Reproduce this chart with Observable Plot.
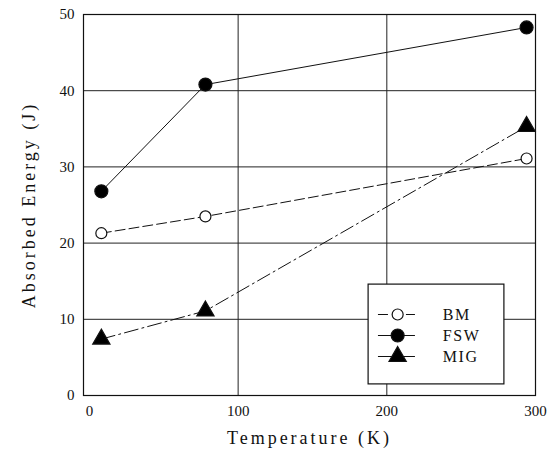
<!DOCTYPE html>
<html><head><meta charset="utf-8">
<script src="https://cdn.jsdelivr.net/npm/d3@7"></script>
<script src="https://cdn.jsdelivr.net/npm/@observablehq/plot@0.6"></script>
<style>
body{margin:0;background:#fff;}
#chart{position:relative;width:549px;height:450px;}
#legend{position:absolute;left:367px;top:283px;}
</style>
</head><body><div id="chart"><div id="main"></div><div id="legend"></div></div>
<script>
// ---- data ----
const temperatures = [8, 78, 294];
const bmValues = [21.3, 23.5, 31.1];
const fswValues = [26.8, 40.8, 48.3];
const migValues = [7.4, 11.1, 35.3];
const seriesNames = ["BM", "FSW", "MIG"];
const xTicks = [0, 100, 200, 300];
const yTicks = [0, 10, 20, 30, 40, 50];
const gridXTicks = [100, 200];
const gridYTicks = [10, 20, 30, 40];
const xLabel = "Temperature (K)";
const yLabel = "Absorbed Energy (J)";

// ---- styles ----
const seriesStyle = {
  BM:  {dash: "10,4", symbol: "circle", fill: "white", r: 5.5},
  FSW: {dash: null, symbol: "circle", fill: "black", r: 6.5},
  MIG: {dash: "14,4,2,4", symbol: "triangle", fill: "black", r: 6.4}
};
const valuesBySeries = {BM: bmValues, FSW: fswValues, MIG: migValues};
const rows = seriesNames.flatMap(s => temperatures.map((t, i) => ({series: s, t, e: valuesBySeries[s][i]})));

const font = "'Liberation Serif', 'Times New Roman', serif";

const seriesMarks = seriesNames.flatMap(s => {
  const st = seriesStyle[s];
  const data = rows.filter(d => d.series === s);
  const lineOpts = {x: "t", y: "e", stroke: "#111", strokeWidth: 1};
  if (st.dash) lineOpts.strokeDasharray = st.dash;
  return [
    Plot.line(data, lineOpts),
    Plot.dot(data, {x: "t", y: "e", symbol: st.symbol, r: st.r, fill: st.fill, stroke: "#111", strokeWidth: 1.2})
  ];
});

const chart = Plot.plot({
  width: 549, height: 450,
  marginLeft: 83, marginRight: 14, marginTop: 14, marginBottom: 55,
  style: {fontFamily: font, fontSize: "15px", color: "#111", background: "#fff"},
  x: {domain: [-4, 300]},
  y: {domain: [0, 50]},
  marks: [
    Plot.gridX(gridXTicks, {stroke: "#222", strokeOpacity: 1}),
    Plot.gridY(gridYTicks, {stroke: "#222", strokeOpacity: 1}),
    Plot.axisX(xTicks, {tickSize: 0, tickPadding: 10, label: null}),
    Plot.axisY(yTicks, {tickSize: 0, tickPadding: 9, label: null}),
    ...seriesMarks,
    Plot.frame({stroke: "#111", strokeWidth: 1.2}),
    Plot.text([xLabel], {text: d => d, frameAnchor: "bottom", dy: 48, lineAnchor: "bottom", textAnchor: "middle", fontSize: 18}),
    Plot.text([yLabel], {text: d => d, frameAnchor: "left", dx: -54, rotate: -90, textAnchor: "middle", lineAnchor: "middle", fontSize: 18})
  ]
});
document.getElementById("main").appendChild(chart);
d3.select(chart).selectAll("text").each(function() {
  const t = this.textContent;
  if (t === xLabel) this.style.letterSpacing = "3px";
  if (t === yLabel) this.style.letterSpacing = "3px";
});

// ---- legend (its own small Plot) ----
const legendRows = seriesNames.map(s => ({series: s}));
const legendMarks = seriesNames.flatMap(s => {
  const st = seriesStyle[s];
  const d = legendRows.filter(r => r.series === s);
  const ro = {y: "series", x1: 0.08, x2: 0.35, stroke: "#111", strokeWidth: 1};
  if (st.dash) ro.strokeDasharray = st.dash;
  return [
    Plot.ruleY(d, ro),
    Plot.dot(d, {y: "series", x: 0.22, symbol: st.symbol, r: st.r, fill: st.fill, stroke: "#111", strokeWidth: 1.2})
  ];
});
const legend = Plot.plot({
  width: 137, height: 101,
  margin: 0,
  style: {fontFamily: font, fontSize: "15px", color: "#111", background: "transparent", overflow: "visible"},
  x: {domain: [0, 1], axis: null},
  y: {type: "point", domain: seriesNames, range: [20, 84], axis: null},
  marks: [
    Plot.frame({fill: "white", stroke: "#111", strokeWidth: 1.2, inset: 0.6}),
    ...legendMarks,
    Plot.text(legendRows, {y: "series", x: 0.55, text: "series", textAnchor: "start", fontSize: 16})
  ]
});
document.getElementById("legend").appendChild(legend);
d3.select(legend).selectAll("text").style("letter-spacing", "1.5px");
</script>
</body></html>
